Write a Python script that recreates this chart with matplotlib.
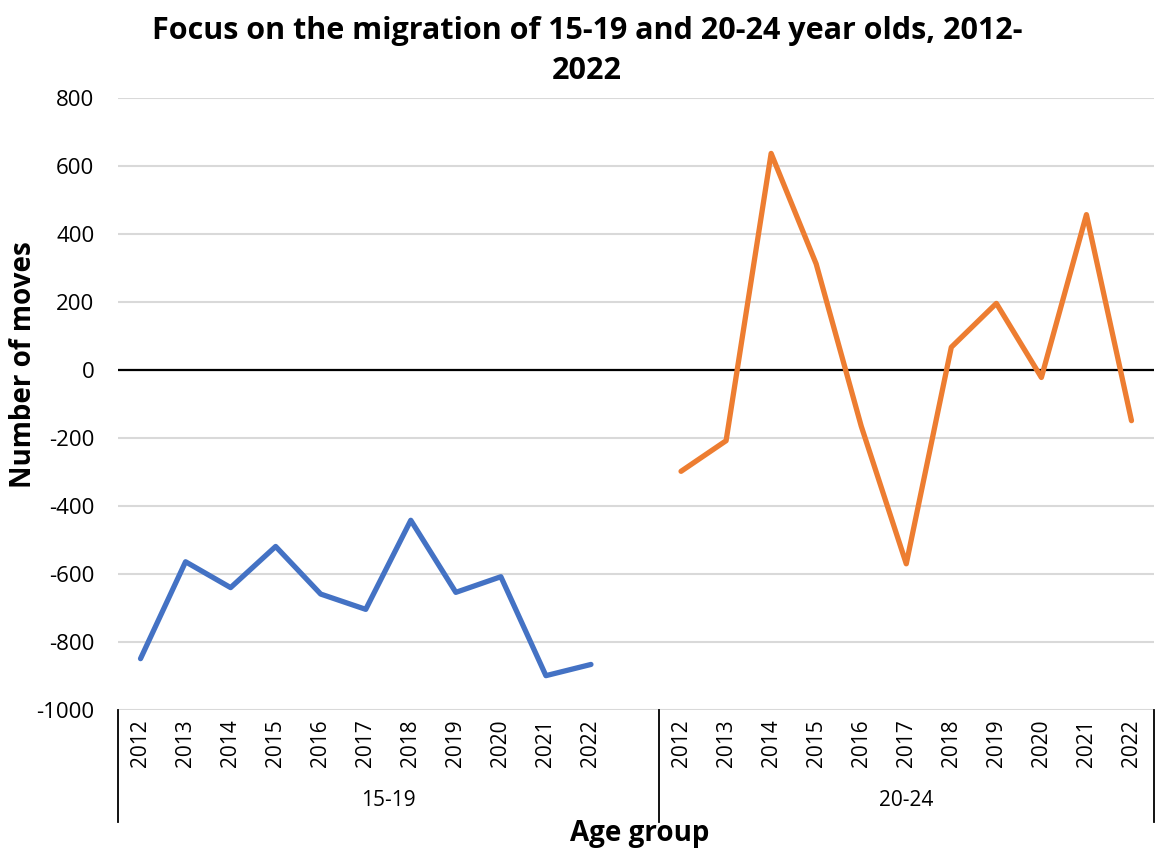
import matplotlib
matplotlib.use("Agg")
import matplotlib.pyplot as plt
import matplotlib.transforms as mtransforms
from matplotlib import font_manager

years = ["2012", "2013", "2014", "2015", "2016", "2017", "2018", "2019", "2020", "2021", "2022"]
groups = ["15-19", "20-24"]
vals_15_19 = [-849, -564, -640, -519, -659, -704, -442, -654, -608, -899, -866]
vals_20_24 = [-298, -208, 637, 312, -165, -570, 67, 196, -22, 457, -149]
yticks = [800, 600, 400, 200, 0, -200, -400, -600, -800, -1000]

avail = {f.name for f in font_manager.fontManager.ttflist}
fam = [f for f in ["Liberation Sans Narrow", "Open Sans", "DejaVu Sans"] if f in avail]
plt.rcParams["font.family"] = fam

W, H = 1157, 850
fig = plt.figure(figsize=(W / 100, H / 100), dpi=100)
left, right, top, bottom = 118, 1154, 98, 710
ax = fig.add_axes([left / W, 1 - bottom / H, (right - left) / W, (bottom - top) / H])

# category slots: 11 years, one blank slot, 11 years
cats = years + [""] + years
x1 = list(range(len(years)))
x2 = [len(years) + 1 + i for i in range(len(years))]

ax.plot(x1, vals_15_19, color="#4472C4", lw=3.8, solid_joinstyle="round", solid_capstyle="round", zorder=3)
ax.plot(x2, vals_20_24, color="#ED7D31", lw=3.8, solid_joinstyle="round", solid_capstyle="round", zorder=3)

ax.set_xlim(-0.5, len(cats) - 0.5)
ax.set_ylim(-1000, 800)
ax.set_yticks(yticks)
ax.set_yticklabels([str(v) for v in yticks], fontsize=16)
ax.yaxis.grid(True, color="#D9D9D9", lw=1.5)
ax.set_axisbelow(True)
ax.axhline(0, color="black", lw=1.6, zorder=2)
for s in ax.spines.values():
    s.set_visible(False)
ax.tick_params(axis="y", length=0, pad=17)
ax.tick_params(axis="x", length=0, pad=7)
ax.set_xticks(range(len(cats)))
ax.set_xticklabels(cats, rotation=90, fontsize=15)

trans = mtransforms.blended_transform_factory(ax.transData, ax.transAxes)
ext = -(822 - 710) / (bottom - top)
for xb in [-0.5, len(years) + 0.5, len(cats) - 0.5]:
    ax.plot([xb, xb], [0, ext], transform=trans, color="black", lw=1.3, clip_on=False)

gy = -(800 - 710) / (bottom - top)
ax.text((-0.5 + len(years) + 0.5) / 2, gy, groups[0], transform=trans, ha="center", va="center", fontsize=15)
ax.text((len(years) + 0.5 + len(cats) - 0.5) / 2, gy, groups[1], transform=trans, ha="center", va="center", fontsize=15)

fig.text(640 / W, 1 - 833 / H, "Age group", ha="center", va="center", fontsize=20, fontweight="bold")
fig.text(24 / W, 1 - 365 / H, "Number of moves", ha="center", va="center", rotation=90, fontsize=20, fontweight="bold")
fig.text(587 / W, 1 - 51 / H, "Focus on the migration of 15-19 and 20-24 year olds, 2012-\n2022",
         ha="center", va="center", fontsize=22, fontweight="bold", linespacing=1.4)

fig.savefig("out.png", dpi=100, facecolor="white")
